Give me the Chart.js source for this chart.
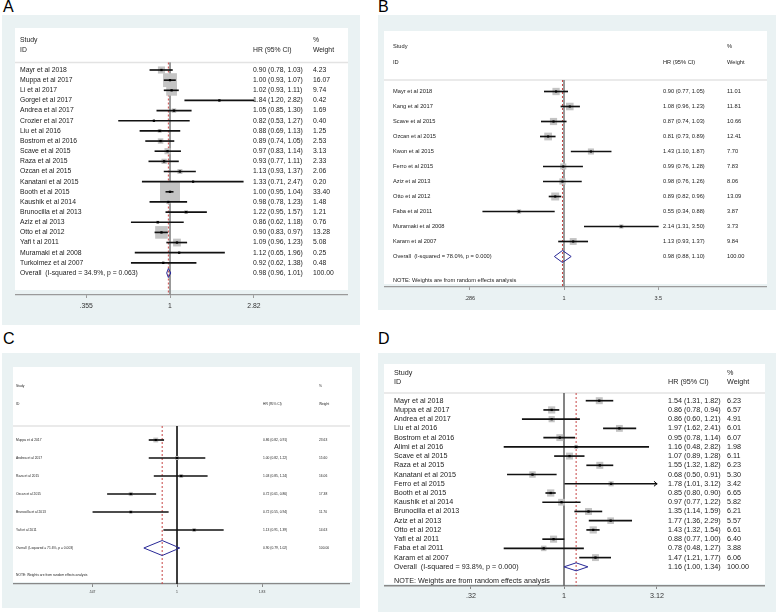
<!DOCTYPE html>
<html><head><meta charset="utf-8">
<script src="https://cdn.jsdelivr.net/npm/chart.js@4"></script>
<style>
body{margin:0;width:778px;height:612px;background:#fff;position:relative;overflow:hidden;font-family:"Liberation Sans",Arial,sans-serif;}
.bg{position:absolute;background:rgb(234,242,243);}
.wh{position:absolute;background:#fff;}
canvas{position:absolute;}
.lbl{position:absolute;font-size:16px;line-height:16px;color:#000;}
</style></head><body>
<div class="bg" style="left:2px;top:15px;width:358px;height:310px"></div>
<div class="bg" style="left:378px;top:15px;width:398px;height:295px"></div>
<div class="bg" style="left:2px;top:353px;width:358px;height:255px"></div>
<div class="bg" style="left:378px;top:353px;width:398px;height:259px"></div>
<div class="wh" style="left:15px;top:28px;width:333px;height:262px"></div>
<div class="wh" style="left:384px;top:31px;width:383px;height:253px"></div>
<div class="wh" style="left:13px;top:367px;width:339px;height:215px"></div>
<div class="wh" style="left:384px;top:364px;width:381px;height:220px"></div>
<div class="lbl" style="left:3px;top:-1px">A</div>
<div class="lbl" style="left:378px;top:-1px">B</div>
<div class="lbl" style="left:3px;top:331px">C</div>
<div class="lbl" style="left:378px;top:331px">D</div>
<canvas id="cA" width="333" height="297" style="left:15px;top:28px"></canvas>
<canvas id="cB" width="383" height="279" style="left:384px;top:31px"></canvas>
<canvas id="cC" width="337" height="241" style="left:13px;top:367px"></canvas>
<canvas id="cD" width="381" height="248" style="left:384px;top:364px"></canvas>
<script>
// ---------- Panel A ----------
const studiesA = ['Mayr et al 2018','Muppa et al 2017','Li et al 2017','Gorgel et al 2017','Andrea et al 2017','Crozier et al 2017','Liu et al 2016','Bostrom et al 2016','Scave et al 2015','Raza et al 2015','Ozcan et al 2015','Kanatani et al 2015','Booth et al 2015','Kaushik et al 2014','Brunocilla et al 2013','Aziz et al 2013','Otto et al 2012','Yafi t al 2011','Muramaki et al 2008','Turkolmez et al 2007'];
const hrA = [0.90,1.00,1.02,1.84,1.05,0.82,0.88,0.89,0.97,0.93,1.13,1.33,1.00,0.98,1.22,0.86,0.90,1.09,1.12,0.92];
const lowA = [0.78,0.93,0.93,1.20,0.85,0.53,0.69,0.74,0.83,0.77,0.93,0.71,0.95,0.78,0.95,0.62,0.83,0.96,0.65,0.62];
const highA = [1.03,1.07,1.11,2.82,1.30,1.27,1.13,1.05,1.14,1.11,1.37,2.47,1.04,1.23,1.57,1.18,0.97,1.23,1.96,1.38];
const weightA = [4.23,16.07,9.74,0.42,1.69,0.40,1.25,2.53,3.13,2.33,2.06,0.20,33.40,1.48,1.21,0.76,13.28,5.08,0.25,0.48];
const overallA = [0.98,0.96,1.01];
const hetA = [34.9,0.063];
const ticksA = [0.355,1,2.82];
const tickLabelsA = ['.355','1','2.82'];
const truncatedA = [];

// ---------- Panel B ----------
const studiesB = ['Mayr et al 2018','Kang et al 2017','Scave et al 2015','Ozcan et al 2015','Kwon et al 2015','Ferro et al 2015','Aziz et al 2013','Otto et al 2012','Faba et al 2011','Muramaki et al 2008','Karam et al 2007'];
const hrB = [0.90,1.08,0.87,0.81,1.43,0.99,0.98,0.89,0.55,2.14,1.13];
const lowB = [0.77,0.96,0.74,0.73,1.10,0.76,0.76,0.82,0.34,1.31,0.93];
const highB = [1.05,1.23,1.03,0.89,1.87,1.28,1.26,0.96,0.88,3.50,1.37];
const weightB = [11.01,11.81,10.66,12.41,7.70,7.83,8.06,13.09,3.87,3.73,9.84];
const overallB = [0.98,0.88,1.10];
const hetB = [78.0,0.000];
const ticksB = [0.286,1,3.5];
const tickLabelsB = ['.286','1','3.5'];
const truncatedB = [];

// ---------- Panel C ----------
const studiesC = ['Muppa et al 2017','Andrea et al 2017','Raza et al 2015','Ozcan et al 2015','Brunocilla et al 2013','Yafi et al 2011'];
const hrC = [0.86,1.00,1.03,0.72,0.72,1.13];
const lowC = [0.82,0.82,0.85,0.61,0.55,0.91];
const highC = [0.91,1.22,1.24,0.86,0.94,1.39];
const weightC = [23.63,15.60,16.06,17.38,11.70,14.63];
const overallC = [0.90,0.79,1.02];
const hetC = [71.6,0.003];
const ticksC = [0.547,1,1.83];
const tickLabelsC = ['.547','1','1.83'];
const truncatedC = [];

// ---------- Panel D ----------
const studiesD = ['Mayr et al 2018','Muppa et al 2017','Andrea et al 2017','Liu et al 2016','Bostrom et al 2016','Alimi et al 2016','Scave et al 2015','Raza et al 2015','Kanatani et al 2015','Ferro et al 2015','Booth et al 2015','Kaushik et al 2014','Brunocilla et al 2013','Aziz et al 2013','Otto et al 2012','Yafi et al 2011','Faba et al 2011','Karam et al 2007'];
const hrD = [1.54,0.86,0.86,1.97,0.95,1.16,1.07,1.55,0.68,1.78,0.85,0.97,1.35,1.77,1.43,0.88,0.78,1.47];
const lowD = [1.31,0.78,0.60,1.62,0.78,0.48,0.89,1.32,0.50,1.01,0.80,0.77,1.14,1.36,1.32,0.77,0.48,1.21];
const highD = [1.82,0.94,1.21,2.41,1.14,2.82,1.28,1.82,0.91,3.12,0.90,1.22,1.59,2.29,1.54,1.00,1.27,1.77];
const weightD = [6.23,6.57,4.91,6.01,6.07,1.98,6.11,6.23,5.30,3.42,6.65,5.82,6.21,5.57,6.61,6.40,3.88,6.06];
const overallD = [1.16,1.00,1.34];
const hetD = [93.8,0.000];
const ticksD = [0.32,1,3.12];
const tickLabelsD = ['.32','1','3.12'];
const truncatedD = ['Ferro et al 2015'];

const noteText = 'NOTE: Weights are from random effects analysis';
const FAMILY = '"Liberation Sans", Arial, Helvetica, sans-serif';

const panels = [
 {id:'cA', studies:studiesA, hr:hrA, lo:lowA, hi:highA, w:weightA, overall:overallA, het:hetA, ticks:ticksA, labels:tickLabelsA, trunc:truncatedA, note:false,
  L:{width:333,height:297,axisY:267,row0:42,step:10.15,studyY:12,idY:22,sepY:34.5,noteY:0,xName:5,xHR:238,xWt:298,font:6.8,tickFont:6.8,tickPad:4.5,x1:155,ppl:81,box:3.46,dia:4.5,nullColor:'#8c8c8c',nullW:1,axisColor:'#9a9a9a',axisW:1.2,dot:1.6}},
 {id:'cB', studies:studiesB, hr:hrB, lo:lowB, hi:highB, w:weightB, overall:overallB, het:hetB, ticks:ticksB, labels:tickLabelsB, trunc:truncatedB, note:true,
  L:{width:383,height:279,axisY:256,row0:60.5,step:15,studyY:15,idY:31,sepY:49,noteY:249,xName:9,xHR:279,xWt:343,font:5.7,tickFont:5.5,tickPad:5.2,x1:180,ppl:75.3,box:2.2,dia:6,nullColor:'#8c8c8c',nullW:1,axisColor:'#9a9a9a',axisW:1.2,dot:1.5}},
 {id:'cC', studies:studiesC, hr:hrC, lo:lowC, hi:highC, w:weightC, overall:overallC, het:hetC, ticks:ticksC, labels:tickLabelsC, trunc:truncatedC, note:true,
  L:{width:337,height:241,axisY:217,row0:73,step:18,studyY:19,idY:37,sepY:59,noteY:208,xName:3,xHR:250,xWt:306,font:3.3,tickFont:3.4,tickPad:3.3,x1:164,ppl:140.7,box:1.0,dia:7.5,nullColor:'#222',nullW:1,axisColor:'#888',axisW:1.2,dot:1.5}},
 {id:'cD', studies:studiesD, hr:hrD, lo:lowD, hi:highD, w:weightD, overall:overallD, het:hetD, ticks:ticksD, labels:tickLabelsD, trunc:truncatedD, note:true,
  L:{width:381,height:248,axisY:222,row0:36.7,step:9.23,studyY:9,idY:18.5,sepY:29,noteY:216.7,xName:10,xHR:284,xWt:343,font:7.2,tickFont:7.2,tickPad:2.4,x1:180,ppl:81.7,box:2.8,dia:4,nullColor:'#666',nullW:1.6,axisColor:'#888',axisW:1.6,dot:1.6}}
];

function fmtCI(e,l,h){ return e.toFixed(2)+' ('+l.toFixed(2)+', '+h.toFixed(2)+')'; }

function makeTable(p){
  const L = p.L;
  return {
    id:'table',
    beforeDatasetsDraw(chart){
      const ctx = chart.ctx, a = chart.chartArea;
      ctx.save();
      ctx.strokeStyle = '#e3e3e3'; ctx.lineWidth = 1.5;
      ctx.beginPath(); ctx.moveTo(a.left, L.sepY); ctx.lineTo(a.right, L.sepY); ctx.stroke();
      ctx.restore();
    },
    afterDatasetsDraw(chart){
      const ctx = chart.ctx, xs = chart.scales.x, ys = chart.scales.y;
      ctx.save();
      ctx.strokeStyle = '#000'; ctx.lineWidth = 1;
      p.studies.forEach((s,i)=>{
        if (p.trunc.includes(s)) {
          const x = xs.getPixelForValue(p.hi[i]), y = ys.getPixelForValue(i);
          ctx.beginPath(); ctx.moveTo(x-3, y-2.5); ctx.lineTo(x, y); ctx.lineTo(x-3, y+2.5); ctx.stroke();
        }
      });
      ctx.restore();
    },
    afterDraw(chart){
      const ctx = chart.ctx, ys = chart.scales.y, a = chart.chartArea;
      ctx.save();
      ctx.fillStyle = '#222';
      ctx.textBaseline = 'middle';
      ctx.textAlign = 'left';
      ctx.font = L.font + 'px ' + FAMILY;
      const xn = a.left + L.xName, xh = a.left + L.xHR, xw = a.left + L.xWt;
      ctx.fillText('Study', xn, L.studyY);
      ctx.fillText('ID', xn, L.idY);
      ctx.fillText('HR (95% CI)', xh, L.idY);
      ctx.fillText('%', xw, L.studyY);
      ctx.fillText('Weight', xw, L.idY);
      p.studies.forEach((s,i)=>{
        const y = ys.getPixelForValue(i);
        ctx.fillText(s, xn, y);
        ctx.fillText(fmtCI(p.hr[i], p.lo[i], p.hi[i]), xh, y);
        ctx.fillText(p.w[i].toFixed(2), xw, y);
      });
      const n = p.studies.length;
      const yo = ys.getPixelForValue(n);
      ctx.fillText('Overall  (I-squared = ' + p.het[0].toFixed(1) + '%, p = ' + p.het[1].toFixed(3) + ')', xn, yo);
      ctx.fillText(fmtCI(p.overall[0], p.overall[1], p.overall[2]), xh, yo);
      ctx.fillText((100).toFixed(2), xw, yo);
      if (p.note) ctx.fillText(noteText, xn, L.noteY);
      ctx.restore();
    }
  };
}

panels.forEach(p=>{
  const L = p.L;
  const n = p.studies.length;
  const yMin = -L.row0 / L.step;
  const yMax = (L.axisY - L.row0) / L.step;
  const ySep = (L.sepY - L.row0) / L.step;
  const xMin = Math.exp(-L.x1 / L.ppl);
  const xMax = Math.exp((L.width - L.x1) / L.ppl);
  const h = L.dia / L.step;
  const [oe, ol, oh] = p.overall;
  const rows = p.studies.map((s,i)=>i);
  new Chart(document.getElementById(p.id), {
    type:'scatter',
    data:{datasets:[
      {type:'scatter', order:0, data: rows.map(i=>({x:p.hr[i], y:i})), pointStyle:'rect', pointRadius:L.dot, backgroundColor:'#000', borderWidth:0},
      {type:'bar', order:1, indexAxis:'y', data: rows.map(i=>({y:i, x:[p.lo[i], p.hi[i]]})), backgroundColor:'#111', barThickness:1, borderWidth:0, grouped:false},
      {type:'scatter', order:2, data: rows.map(i=>({x:p.hr[i], y:i})), pointStyle:'rect', pointRadius: p.w.map(v=>L.box*Math.sqrt(v)/Math.SQRT2), backgroundColor:'#c4c4c4', borderWidth:0},
      {type:'scatter', order:3, showLine:true, data:[{x:ol,y:n},{x:oe,y:n-h},{x:oh,y:n},{x:oe,y:n+h},{x:ol,y:n}], borderColor:'rgb(40,40,150)', borderWidth:1, pointRadius:0, fill:false, tension:0},
      {type:'scatter', order:4, showLine:true, data:[{x:oe,y:ySep},{x:oe,y:yMax}], borderColor:'rgb(200,70,70)', borderWidth:1, borderDash:[2,2], pointRadius:0, fill:false},
      {type:'scatter', order:5, showLine:true, data:[{x:1,y:ySep},{x:1,y:yMax}], borderColor:L.nullColor, borderWidth:L.nullW, pointRadius:0, fill:false}
    ]},
    options:{
      responsive:false, animation:false, events:[], devicePixelRatio:1,
      layout:{padding:0, autoPadding:false},
      plugins:{legend:{display:false}, tooltip:{enabled:false}},
      scales:{
        x:{type:'logarithmic', min:xMin, max:xMax, bounds:'data', position:'bottom', offset:false,
          afterBuildTicks: s => { s.ticks = p.ticks.map(v=>({value:v})); },
          afterFit: s => { s.height = L.height - L.axisY; },
          ticks:{autoSkip:false, maxRotation:0, minRotation:0, font:{size:L.tickFont, family:FAMILY}, color:'#333', padding:L.tickPad,
            callback:(v,i)=>p.labels[i]},
          grid:{display:true, offset:false, drawOnChartArea:false, drawTicks:true, tickLength:3, color:L.axisColor, lineWidth:1},
          border:{display:true, color:L.axisColor, width:L.axisW}
        },
        y:{type:'linear', display:false, reverse:true, min:yMin, max:yMax, bounds:'data', offset:false, grid:{offset:false}}
      }
    },
    plugins:[makeTable(p)]
  });
});
</script>
</body></html>
